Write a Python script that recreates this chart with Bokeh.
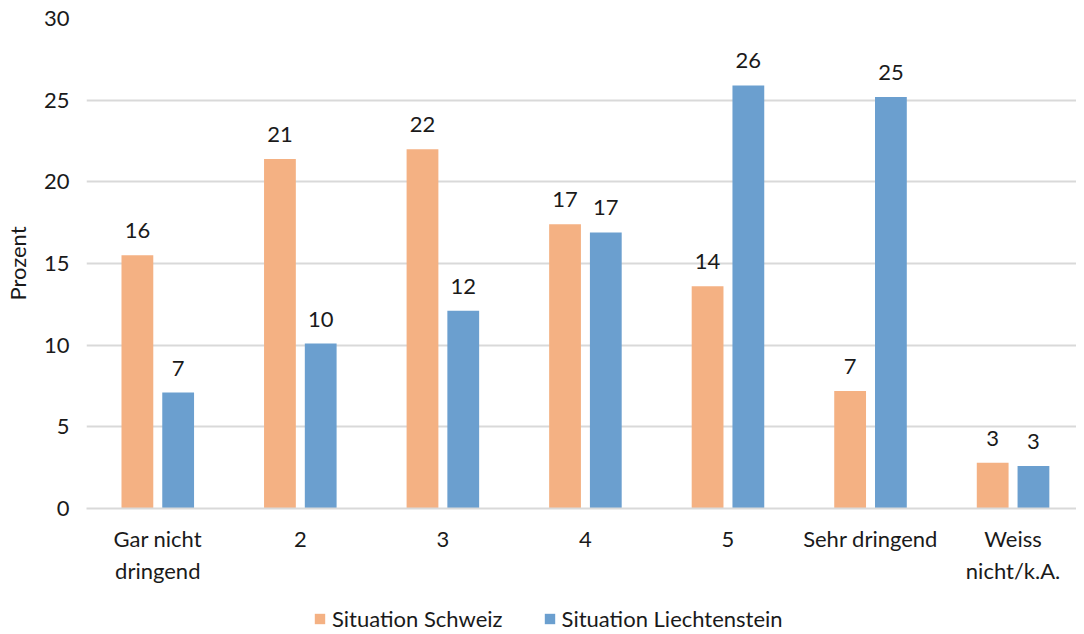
from bokeh.plotting import figure
from bokeh.layouts import column
from bokeh.models import ColumnDataSource, Range1d, FixedTicker, Legend, LegendItem, LabelSet
from bokeh.core.properties import value
from bokeh.embed import file_html
from bokeh.resources import INLINE

categories = ["Gar nicht\ndringend", "2", "3", "4", "5", "Sehr dringend", "Weiss\nnicht/k.A."]
schweiz = [15.5, 21.4, 22.0, 17.4, 13.6, 7.2, 2.8]
liechtenstein = [7.1, 10.1, 12.1, 16.9, 25.9, 25.2, 2.6]
series_names = ["Situation Schweiz", "Situation Liechtenstein"]
colors = ["#F4B183", "#6B9FCF"]
y_ticks = [0, 5, 10, 15, 20, 25, 30]

FONT = "Lato"
FS = "22px"
TXT = "#1a1a1a"

idx = list(range(len(categories)))
off = 0.143
bw = 0.223

p = figure(width=1076, height=586, output_backend="svg", toolbar_location=None,
           x_range=Range1d(-0.5, 6.445), y_range=Range1d(0, 30),
           min_border_left=81, min_border_right=0, min_border_top=18, min_border_bottom=77)
p.outline_line_color = None
p.background_fill_color = "white"

src_s = ColumnDataSource(dict(x=[i - off for i in idx], top=schweiz,
                              lab=["{:.0f}".format(v) for v in schweiz]))
src_l = ColumnDataSource(dict(x=[i + off for i in idx], top=liechtenstein,
                              lab=["{:.0f}".format(v) for v in liechtenstein]))

p.vbar(x="x", top="top", width=bw, source=src_s, fill_color=colors[0], line_color=None)
p.vbar(x="x", top="top", width=bw, source=src_l, fill_color=colors[1], line_color=None)

for src in (src_s, src_l):
    p.add_layout(LabelSet(x="x", y="top", text="lab", source=src, y_offset=17,
                          text_align="center", text_baseline="bottom",
                          text_font=value(FONT), text_font_size=FS, text_color=TXT))

# axes
p.xaxis.ticker = FixedTicker(ticks=idx)
p.xaxis.major_label_overrides = {i: c for i, c in zip(idx, categories)}
p.xaxis.major_tick_line_color = None
p.xaxis.minor_tick_line_color = None
p.xaxis.axis_line_color = "#d9d9d9"
p.xaxis.axis_line_width = 2
p.xaxis.major_label_text_font = FONT
p.xaxis.major_label_text_font_size = FS
p.xaxis.major_label_text_color = TXT
p.xaxis.major_label_standoff = 10

p.yaxis.ticker = FixedTicker(ticks=y_ticks)
p.yaxis.major_tick_line_color = None
p.yaxis.minor_tick_line_color = None
p.yaxis.axis_line_color = None
p.yaxis.major_label_text_font = FONT
p.yaxis.major_label_text_font_size = FS
p.yaxis.major_label_text_color = TXT
p.yaxis.major_label_standoff = 11
p.yaxis.axis_label = "Prozent"
p.yaxis.axis_label_text_font = FONT
p.yaxis.axis_label_text_font_size = FS
p.yaxis.axis_label_text_font_style = "normal"
p.yaxis.axis_label_text_color = TXT
p.yaxis.axis_label_standoff = 10

p.xgrid.grid_line_color = None
p.ygrid.grid_line_color = "#d9d9d9"
p.ygrid.grid_line_width = 2

# legend strip below the chart (swatch renderers hold zero-height bars outside the visible range)
q = figure(width=1076, height=46, output_backend="svg", toolbar_location=None,
           x_range=Range1d(0, 1), y_range=Range1d(0, 1),
           x_axis_location=None, y_axis_location=None,
           min_border_left=0, min_border_right=0, min_border_top=0, min_border_bottom=0)
q.outline_line_color = None
q.grid.grid_line_color = None
lr1 = q.vbar(x=[5], top=[0], width=0.1, fill_color=colors[0], line_color=None)
lr2 = q.vbar(x=[5], top=[0], width=0.1, fill_color=colors[1], line_color=None)
legend = Legend(items=[LegendItem(label=series_names[0], renderers=[lr1]),
                       LegendItem(label=series_names[1], renderers=[lr2])],
                orientation="horizontal", location=(227, 0),
                label_text_font=FONT, label_text_font_size=FS, label_text_color=TXT,
                glyph_width=13, glyph_height=13, spacing=40, border_line_color=None,
                background_fill_alpha=0, margin=0, padding=2, label_standoff=6)
q.add_layout(legend, "center")

layout = column(p, q, spacing=0)
open("out.html", "w").write(file_html(layout, INLINE))
